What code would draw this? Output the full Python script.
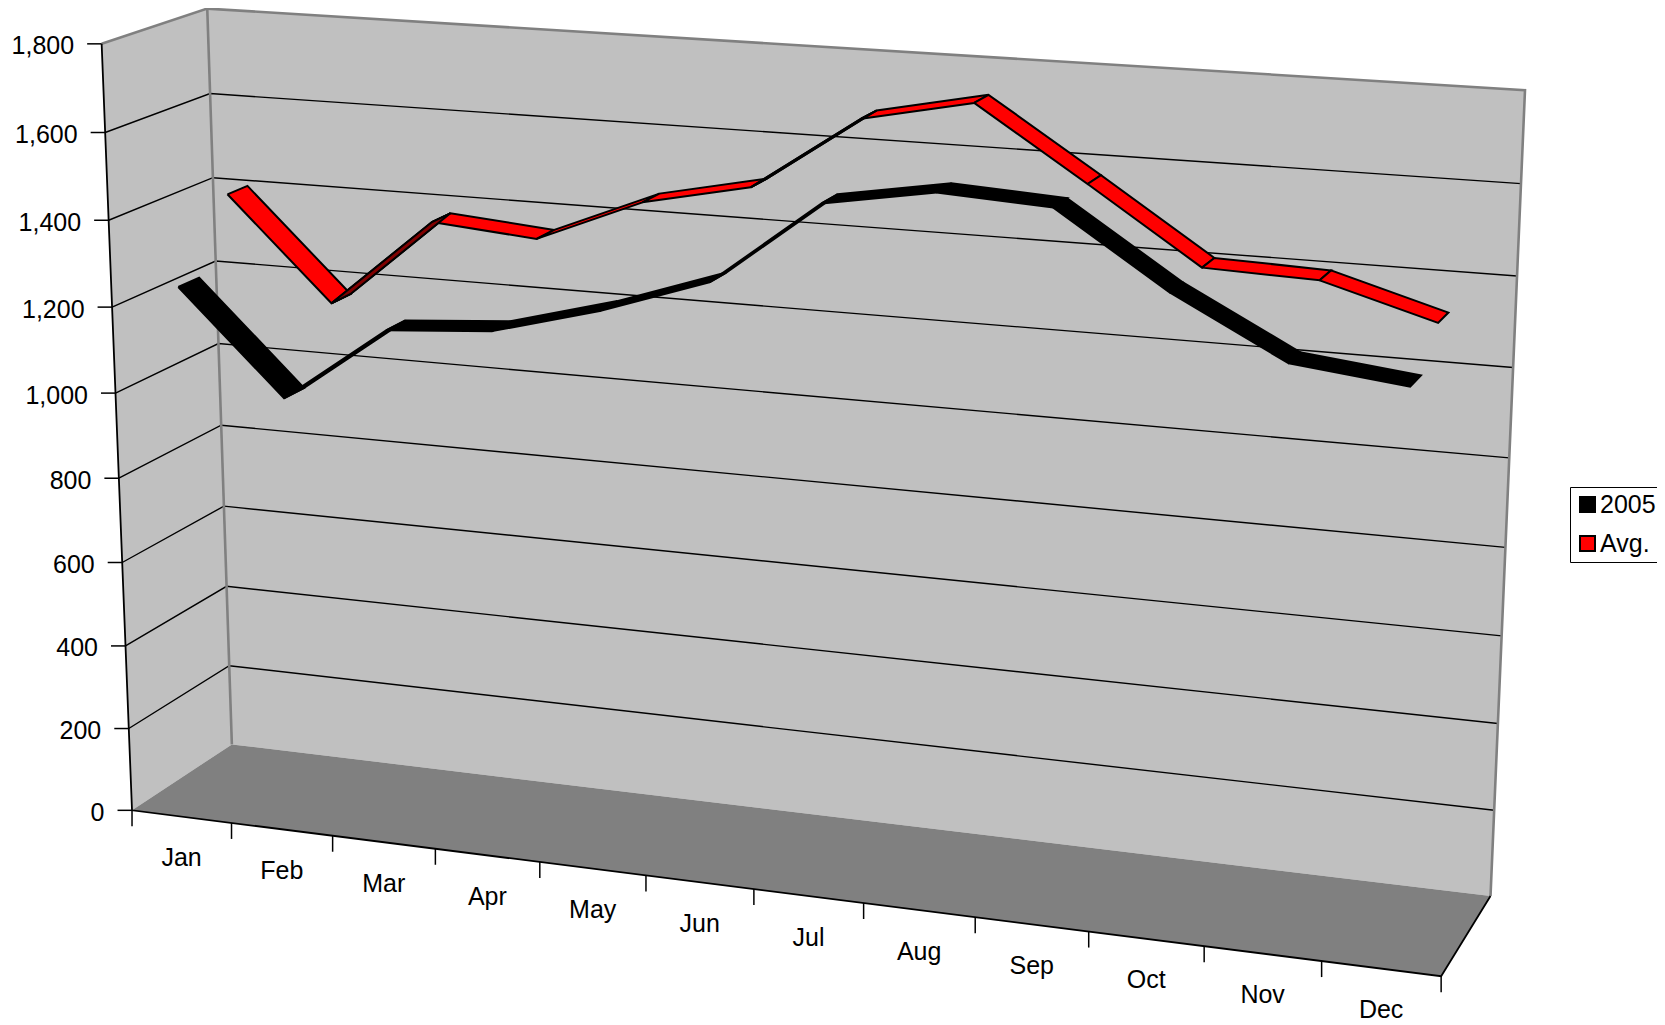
import numpy as np, pandas as pd, altair as alt

months = ["Jan","Feb","Mar","Apr","May","Jun","Jul","Aug","Sep","Oct","Nov","Dec"]
values_2005 = [1240,1003,1181,1200,1266,1350,1542,1584,1570,1407,1277,1249]
values_avg = [1404,1167,1376,1356,1458,1510,1680,1731,1571,1407,1399,1327]
value_ticks = [0,200,400,600,800,1000,1200,1400,1600,1800]
series_depth = {"2005":(0.15,0.35),"Avg.":(0.65,0.85)}
font = "Liberation Sans"
fs = 25

# Camera of the 3-D box: (month, depth, value) -> page pixel, calibrated on the box's corners
corr=[((0,0,0),(131.7,810)),((0,0,1800),(101.7,43.3)),((0,1,0),(232.3,744)),((0,1,1800),(207.7,8.5)),
((12,1,0),(1490.7,896)),((12,1,1800),(1525,90.3)),((12,0,0),(1441,976)),((1,0,0),(231.7,823.3)),
((2,0,0),(332.7,836)),((3,0,0),(435,849)),((0,0,1600),(105.7,132.7)),((0,1,1600),(209,94))]
A=[];b=[]
for (u,d,w),(x,y) in corr:
    w=w/1800
    A.append([u,d,w,1,0,0,0,0,-x*u,-x*d,-x*w]);b.append(x)
    A.append([0,0,0,0,u,d,w,1,-y*u,-y*d,-y*w]);b.append(y)
p=np.linalg.lstsq(np.array(A),np.array(b),rcond=None)[0]
P=np.array([p[:4],p[4:8],list(p[8:])+[1]])
def proj(u,d,w):
    v=P@np.array([u,d,w/1800,1]);return float(v[0]/v[2]),float(v[1]/v[2])

W,H=1649,1017
X=alt.Scale(domain=[8,8+W],range=[0,W])
Y=alt.Scale(domain=[8,8+H],range=[0,H])
xe=alt.X("x:Q",scale=X,axis=None)
ye=alt.Y("y:Q",scale=Y,axis=None)

def polys(items):
    rows=[]
    for gid,pts in enumerate(items):
        for k,pt in enumerate(pts):
            x,y=proj(*pt); rows.append({"g":gid,"k":k,"x":x,"y":y})
    return pd.DataFrame(rows)

def area(df,color):
    return alt.Chart(df).mark_line(fill=color,stroke=color,strokeWidth=0,interpolate="linear",clip=True).encode(x=xe,y=ye,detail="g:N",order="k:Q")
def path(df,color,width):
    return alt.Chart(df).mark_line(color=color,strokeWidth=width,clip=True).encode(x=xe,y=ye,detail="g:N",order="k:Q")

walls=polys([[(0,0,0),(0,0,1800),(0,1,1800),(0,1,0),(0,0,0)],[(0,1,0),(0,1,1800),(12,1,1800),(12,1,0),(0,1,0)]])
floor=polys([[(0,0,0),(0,1,0),(12,1,0),(12,0,0),(0,0,0)]])
grid=polys([[(0,0,v),(0,1,v),(12,1,v)] for v in value_ticks[1:-1]])
frame=polys([[(0,0,1800),(0,1,1800),(12,1,1800),(12,1,0)],[(0,1,1800),(0,1,0)]])
axes=polys([[(0,0,1800),(0,0,0),(12,0,0),(12,1,0)]])

# ticks
vt=[]
for v in value_ticks:
    x,y=proj(0,0,v); vt.append({"x":x-14.5,"x2":x,"y":y,"label":f"{v:,}"})
vt=pd.DataFrame(vt)
mt=[]
for i in range(13):
    x,y=proj(i,0,0); mt.append({"x":x,"y":y,"y2":y+16})
mt=pd.DataFrame(mt)
ml=[]
for i,m in enumerate(months):
    x,y=proj(i+.5,0,0); ml.append({"x":x,"y":y,"label":m})
ml=pd.DataFrame(ml)

vtick=alt.Chart(vt).mark_rule(color="black",strokeWidth=1.5).encode(x=xe,x2="x2:Q",y=ye)
vlab=alt.Chart(vt).mark_text(font=font,fontSize=fs,align="right",baseline="middle",dx=-13,dy=2.5,color="black").encode(x=xe,y=ye,text="label:N")
mtick=alt.Chart(mt).mark_rule(color="black",strokeWidth=1.5).encode(x=xe,y=ye,y2="y2:Q")
mlab=alt.Chart(ml).mark_text(font=font,fontSize=fs,align="center",baseline="middle",dy=41.5,color="black").encode(x=xe,y=ye,text="label:N")

# ribbons
rib=[];dark=[]
gid=0
for name,vals in [("Avg.",values_avg),("2005",values_2005)]:
    d0,d1=series_depth[name]
    for i in range(11):
        pts=[(i+.5,d0,vals[i]),(i+1.5,d0,vals[i+1]),(i+1.5,d1,vals[i+1]),(i+.5,d1,vals[i]),(i+.5,d0,vals[i])]
        xy=[proj(*q) for q in pts]
        s=sum(xy[j][0]*xy[j+1][1]-xy[j+1][0]*xy[j][1] for j in range(4))
        under = s>0
        for k,q in enumerate(xy):
            row={"g":gid,"k":k,"x":q[0],"y":q[1],"series":name}
            rib.append(row)
            if under and name=="Avg.": dark.append(row)
        gid+=1
rib=pd.DataFrame(rib);dark=pd.DataFrame(dark)

legend=alt.Legend(orient="none",legendX=1562,legendY=479,title=None,direction="vertical",
    fillColor="white",strokeColor="black",padding=5,symbolType="square",symbolSize=225,
    symbolStrokeColor="black",symbolStrokeWidth=2,labelFont=font,labelFontSize=fs,labelColor="black",
    rowPadding=13,labelOffset=0,symbolOffset=0,labelLimit=200)
ribbons=alt.Chart(rib).mark_line(stroke="black",strokeWidth=2,strokeJoin="miter",clip=True).encode(
    x=xe,y=ye,detail="g:N",order="k:Q",
    fill=alt.Fill("series:N",scale=alt.Scale(domain=["2005","Avg."],range=["#000000","#FF0000"]),legend=legend))
layers=[area(walls,"#C0C0C0"),area(floor,"#808080"),path(grid,"black",1.4),path(frame,"#808080",2.6),path(axes,"black",1.8),
        mtick,vtick,vlab,mlab,ribbons]
if len(dark):
    layers.append(alt.Chart(dark).mark_line(stroke="black",strokeWidth=2,fill="#800000",clip=True).encode(x=xe,y=ye,detail="g:N",order="k:Q"))
chart=alt.layer(*layers).properties(width=W,height=H,padding=0,autosize=alt.AutoSizeParams(type="none"),background="white").configure_view(stroke=None)
chart.save("out.html",embed_options={"renderer":"svg","actions":False})
